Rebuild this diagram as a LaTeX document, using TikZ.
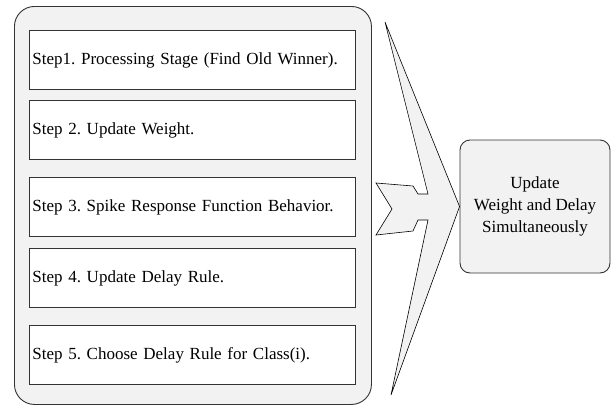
\documentclass[tikz,border=0pt]{standalone}
\usepackage{fontspec}
\setmainfont{Liberation Serif}
\frenchspacing
\definecolor{panel}{HTML}{F2F2F2}
\definecolor{edge}{HTML}{333333}
\tikzset{
  outerbox/.style={draw=edge, line width=0.9pt, fill=panel, rounded corners=20pt, inner sep=0pt},
  stepbox/.style={draw=edge, line width=0.9pt, fill=white, inner xsep=3pt, inner ysep=0pt,
    text width=320pt, align=left, minimum height=59pt, anchor=north west,
    font=\fontsize{17}{20}\selectfont},
  bigarrow/.style={draw=black, line width=0.6pt, fill=panel},
  resultbox/.style={draw=edge, line width=0.9pt, fill=panel, rounded corners=10pt,
    minimum width=150pt, minimum height=133pt, align=center, inner sep=0pt,
    font=\fontsize{17}{22}\selectfont}
}
\begin{document}
\begin{tikzpicture}[x=1pt,y=-1pt]
\useasboundingbox (0,0) rectangle (614,405);
\node[outerbox, minimum width=357pt, minimum height=398pt, anchor=north west] (group) at (14,6) {};
\node[stepbox] (s1) at (29,30) {\frenchspacing Step1. Processing Stage (Find Old Winner).};
\node[stepbox] (s2) at (29,100) {\frenchspacing Step 2. Update Weight.};
\node[stepbox] (s3) at (29,177) {\frenchspacing Step 3. Spike Response Function Behavior.};
\node[stepbox] (s4) at (29,248) {\frenchspacing Step 4. Update Delay Rule.};
\node[stepbox] (s5) at (29,325) {\frenchspacing Step 5. Choose Delay Rule for Class(i).};
\node[resultbox] (res) at (535,206.5) {Update\\Weight and Delay\\Simultaneously};
\draw[bigarrow] (385,22) -- (res.west) -- (391,395) -- (428,220) -- (418,220) -- (413,231)
  -- (376,235) -- (392,209) -- (376,183) -- (413,186) -- (418,194) -- (428,194) -- cycle;
\end{tikzpicture}
\end{document}
